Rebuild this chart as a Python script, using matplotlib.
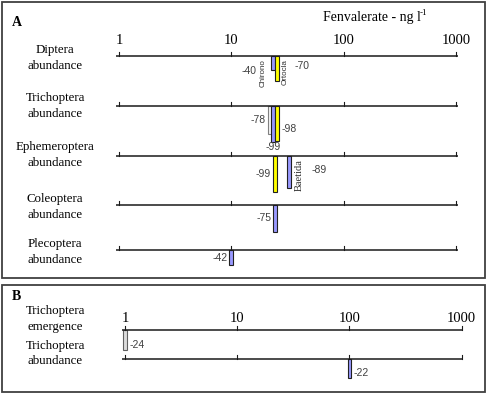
import numpy as np
import matplotlib
matplotlib.use("Agg")
import matplotlib.pyplot as plt
from matplotlib.patches import Rectangle

# ---- data ----
decades = [1, 10, 100, 1000]
decade_labels = ["1", "10", "100", "1000"]

a_rows = ["Diptera\nabundance", "Trichoptera\nabundance", "Ephemeroptera\nabundance",
          "Coleoptera\nabundance", "Plecoptera\nabundance"]
a_bar_row = [0, 0, 1, 1, 1, 2, 2, 3, 4]
a_bar_conc = [23.4, 25.7, 21.9, 23.6, 25.7, 24.4, 32.7, 24.6, 10.0]   # ng/l
a_bar_effect = [-40, -70, -78, -99, -98, -99, -89, -75, -42]          # % change
a_bar_kind = ["blue", "yellow", "white", "blue", "yellow", "yellow", "blue", "blue", "blue"]
a_bar_taxon = ["Chirono", "Ortocla", "", "", "", "", "Baetida", "", ""]

b_rows = ["Trichoptera\nemergence", "Trichoptera\nabundance"]
b_bar_row = [0, 1]
b_bar_conc = [1.0, 100.0]
b_bar_effect = [-24, -22]
b_bar_kind = ["grey", "blue"]
b_bar_taxon = ["", ""]

# ---- layout / style ----
a_row_pos = [0, 50, 100, 149, 194]       # px below first line
b_row_pos = [0, 29.3]
a_name_dy = [2, 0, -1, 2, 2]
b_name_dy = [-11, -6]
a_lab_side = ["left", "right", "left", "below", "right", "left", "right", "left", "left"]
a_lab_frac = [1.05, 0.4, 0.5, 1.0, 0.65, 0.5, 0.45, 0.5, 0.5]
b_lab_side = ["right", "right"]
b_lab_frac = [0.75, 0.75]

colors = {"blue": "#9999ff", "yellow": "#ffff00", "white": "#f4f4f4", "grey": "#dcdcdc"}
edges = {"blue": "#202020", "yellow": "#202020", "white": "#808080", "grey": "#606060"}

SERIF = "Liberation Serif"
SANS = "Liberation Sans"
W, H = 490, 396

fig = plt.figure(figsize=(W / 100, H / 100), dpi=100)


def fx(px):
    return px / W


def fy(py):
    return 1 - py / H


# panel frames
for (x0, y0, x1, y1) in [(2, 2, 485, 278), (2, 285, 485, 392)]:
    fig.patches.append(Rectangle((fx(x0), fy(y1)), fx(x1) - fx(x0), fy(y0) - fy(y1),
                                 transform=fig.transFigure, fill=False,
                                 edgecolor="#404040", lw=1.3))

fig.text(fx(12), fy(22), "A", family=SERIF, fontsize=10, fontweight="bold", va="center")
fig.text(fx(12), fy(297), "B", family=SERIF, fontsize=10, fontweight="bold", va="center")
fig.text(fx(323), fy(17), "Fenvalerate - ng l", family=SERIF, fontsize=10,
         va="center", ha="left")
fig.text(fx(420), fy(13), "-1", family=SERIF, fontsize=6.5, va="center", ha="left")


def draw_panel(ax, rows, row_pos, name_dy, bar_row, conc, effect, kind, taxon,
               lab_side, lab_frac, scale, width, label_y, line_x):
    ax.set_xlim(0, 3)
    ax.axis("off")
    label_dx = 55 - ax.get_position().x0 * W
    for r, name in enumerate(rows):
        y = row_pos[r]
        ax.plot(line_x, [y, y], color="#1a1a1a", lw=1.1, clip_on=False,
                solid_capstyle="butt")
        for d in range(len(decades)):
            ax.plot([d, d], [y, y - 4], color="#1a1a1a", lw=0.8, clip_on=False)
        ax.annotate(name, xy=(0, y + name_dy[r]), xycoords=("axes fraction", "data"),
                    xytext=(label_dx, 0), textcoords="offset pixels",
                    ha="center", va="center", family=SERIF, fontsize=9.3,
                    linespacing=1.4, annotation_clip=False)
    for d, lab in zip(decades, decade_labels):
        ax.text(np.log10(d), label_y, lab, ha="center", va="center",
                family=SERIF, fontsize=10.5, clip_on=False)

    xs = np.log10(conc)
    for i in range(len(xs)):
        base = row_pos[bar_row[i]]
        h = -effect[i] * scale
        ax.bar(xs[i], h, width=width, bottom=base, color=colors[kind[i]],
               edgecolor=edges[kind[i]], lw=0.8, clip_on=False)
        extra = 0
        # taxon names written vertically beside the bar
        if taxon[i]:
            if taxon[i] == "Chirono":
                off, fam, fs, extra = -7, SANS, 5.8, 9
            elif taxon[i] == "Ortocla":
                off, fam, fs, extra = 5.5, SANS, 5.8, 9
            else:
                off, fam, fs, extra = 7, SERIF, 7.5, 13
            ax.annotate(taxon[i], xy=(xs[i], base), xytext=(off, -2),
                        textcoords="offset points", rotation=90, ha="center",
                        va="top", family=fam, fontsize=fs, color="#303030")
        lab = "%d" % effect[i]
        ymid = base + h * lab_frac[i]
        if lab_side[i] == "left":
            ax.annotate(lab, xy=(xs[i], ymid), xytext=(-3 - extra, 0),
                        textcoords="offset points", ha="right", va="center",
                        family=SANS, fontsize=7.5, color="#404040")
        elif lab_side[i] == "right":
            ax.annotate(lab, xy=(xs[i], ymid), xytext=(3 + extra, 0),
                        textcoords="offset points", ha="left", va="center",
                        family=SANS, fontsize=7.5, color="#404040")
        else:
            ax.annotate(lab, xy=(xs[i], base + h), xytext=(0, 0),
                        textcoords="offset points", ha="center", va="top",
                        family=SANS, fontsize=7.5, color="#404040")


# panel A: 1 data unit = 1 px, 0.36 px per %
ax_a = fig.add_axes([fx(119), fy(284), fx(456) - fx(119), (284 - 31) / H])
ax_a.set_ylim(228, -25)
draw_panel(ax_a, a_rows, a_row_pos, a_name_dy, a_bar_row, a_bar_conc, a_bar_effect,
           a_bar_kind, a_bar_taxon, a_lab_side, a_lab_frac, scale=0.36,
           width=0.035, label_y=-16, line_x=[-0.03, 3.02])

# panel B: 0.85 px per %
ax_b = fig.add_axes([fx(125), fy(383), fx(461.7) - fx(125), (383 - 315) / H])
ax_b.set_ylim(53, -15)
draw_panel(ax_b, b_rows, b_row_pos, b_name_dy, b_bar_row, b_bar_conc, b_bar_effect,
           b_bar_kind, b_bar_taxon, b_lab_side, b_lab_frac, scale=0.85,
           width=0.031, label_y=-11, line_x=[-0.03, 3.01])

fig.savefig("out.png", dpi=100)
